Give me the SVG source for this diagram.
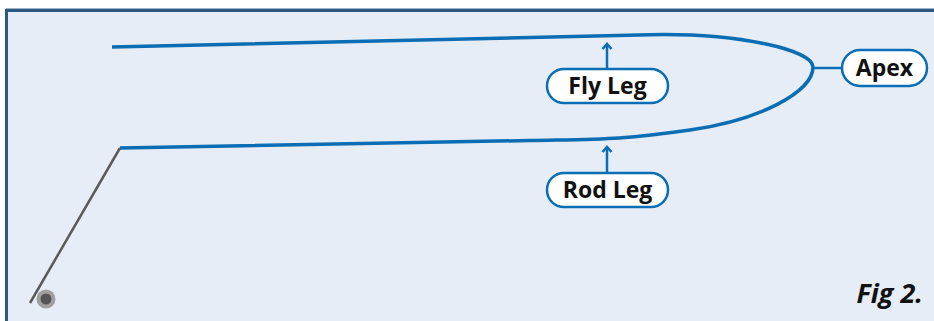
<svg xmlns="http://www.w3.org/2000/svg" width="934" height="321" viewBox="0 0 934 321">
<defs>
<marker id="ah" markerWidth="12" markerHeight="12" refX="6" refY="6" orient="auto" markerUnits="userSpaceOnUse">
<path d="M1,1.5 L6,6 L1,10.5" fill="none" stroke="#0b6db3" stroke-width="2.6"/>
</marker>
</defs>
<style>
.pill{fill:#ffffff;stroke:#0b6db3;stroke-width:2.5}
.lbl{font-family:"Open Sans","Noto Sans",sans-serif;font-weight:700;font-size:23px;fill:#111;text-anchor:middle}
.conn{stroke:#0b6db3;stroke-width:2.5;fill:none}
</style>
<rect x="0" y="0" width="934" height="321" fill="#ffffff"/>
<rect x="6.5" y="10.5" width="1000" height="400" fill="#e6edf7" stroke="#2b5b82" stroke-width="3"/>
<line x1="6" y1="8.5" x2="934" y2="8.5" stroke="#9fb3c6" stroke-width="1"/>
<g id="line">
<path d="M112,47 L650,34.7 C740,33 812,50 813,67 C813,92 760,120 690,130 S600,139 530,140.5 L120,148" fill="none" stroke="#0b6db3" stroke-width="3.5"/>
<line x1="120" y1="148" x2="30" y2="303" stroke="#5a5a5a" stroke-width="2.5"/>
<circle cx="46" cy="299" r="9.5" fill="#a0a0a0"/>
<circle cx="46" cy="299" r="5.5" fill="#555555"/>
</g>
<g id="connectors">
<line class="conn" x1="607" y1="68" x2="607" y2="44" marker-end="url(#ah)"/>
<line class="conn" x1="607" y1="172" x2="607" y2="147" marker-end="url(#ah)"/>
<line class="conn" x1="813" y1="68" x2="842" y2="68"/>
</g>
<g id="fly-leg">
<rect class="pill" x="547" y="69" width="121" height="34" rx="17"/>
<text class="lbl" x="607.5" y="94">Fly Leg</text>
</g>
<g id="rod-leg">
<rect class="pill" x="547" y="173" width="121" height="34" rx="17"/>
<text class="lbl" x="607.5" y="198">Rod Leg</text>
</g>
<g id="apex">
<rect class="pill" x="842" y="50" width="85" height="36" rx="18"/>
<text class="lbl" x="884.5" y="76">Apex</text>
</g>
<text x="923" y="303" font-family="'Open Sans','Noto Sans',sans-serif" font-weight="700" font-style="italic" font-size="27" text-anchor="end" fill="#111">Fig 2.</text>
</svg>
